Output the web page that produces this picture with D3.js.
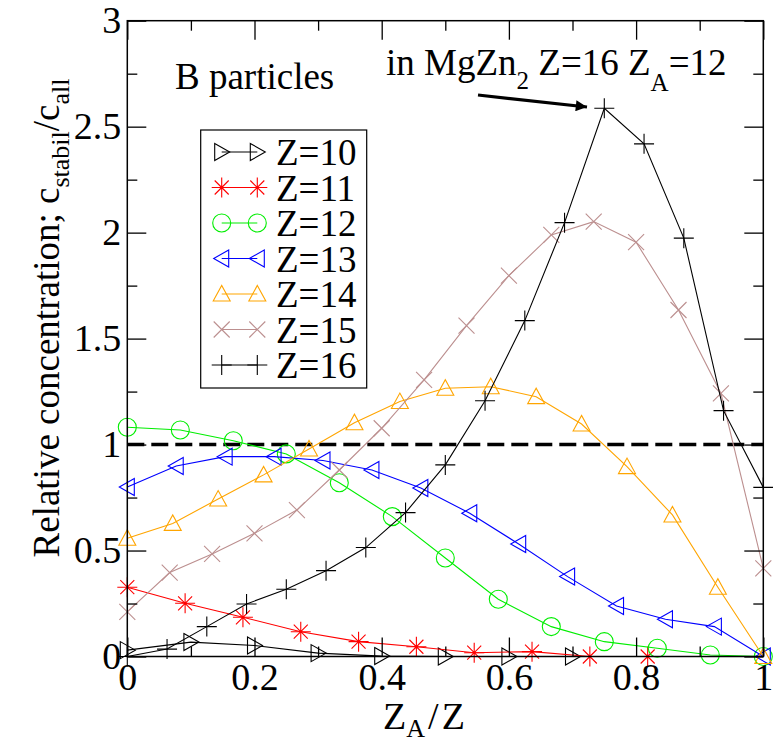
<!DOCTYPE html>
<html lang="en">
<head>
<meta charset="UTF-8">
<title>B particles</title>
<script src="https://d3js.org/d3.v7.min.js"></script>
<style>
    body { margin: 0; padding: 0; background: white; }
    svg text { font-family: "Liberation Serif", "DejaVu Serif", "Times New Roman", serif; }
</style>
</head>
<body>
<div id="chart"></div>
<script>
// x tick labels / y tick labels
const xTicks = [0, 0.2, 0.4, 0.6, 0.8, 1];
const xMinor = [0.1, 0.3, 0.5, 0.7, 0.9];
const yTicks = [0, 0.5, 1, 1.5, 2, 2.5, 3];
const yMinor = [0.25, 0.75, 1.25, 1.75, 2.25, 2.75];

// values at Z_A = 0,1,2,... for each Z
const z10 = [0.03, 0.068, 0.052, 0.016, 0.002, 0.0, 0.0, 0.0];
const z11 = [0.327, 0.251, 0.185, 0.117, 0.070, 0.046, 0.018, 0.023, 0.0, 0.0];
const z12 = [1.082, 1.069, 1.018, 0.956, 0.820, 0.660, 0.465, 0.270, 0.141, 0.070, 0.039, 0.007, 0.0];
const z13 = [0.80, 0.899, 0.943, 0.943, 0.925, 0.880, 0.795, 0.676, 0.531, 0.377, 0.238, 0.176, 0.141, 0.0];
const z14 = [0.558, 0.628, 0.743, 0.857, 0.979, 1.103, 1.203, 1.266, 1.273, 1.226, 1.097, 0.896, 0.668, 0.327, 0.0];
const z15 = [0.211, 0.396, 0.484, 0.581, 0.691, 0.880, 1.077, 1.305, 1.561, 1.797, 1.989, 2.052, 1.955, 1.635, 1.242, 0.416];
const z16 = [0.0, 0.035, 0.141, 0.248, 0.317, 0.405, 0.514, 0.679, 0.904, 1.207, 1.585, 2.047, 2.587, 2.419, 1.974, 1.160, 0.798];

const series = [
    {z: 10, vals: z10, color: "#000000", sym: "triR"},
    {z: 11, vals: z11, color: "#ff0000", sym: "star"},
    {z: 12, vals: z12, color: "#00ee00", sym: "circle"},
    {z: 13, vals: z13, color: "#0000ff", sym: "triL"},
    {z: 14, vals: z14, color: "#ffa500", sym: "triU"},
    {z: 15, vals: z15, color: "#bc8f8f", sym: "cross"},
    {z: 16, vals: z16, color: "#000000", sym: "plus"}
];

const width = 773, height = 743;
const pLeft = 127.3, pRight = 763.3, pTop = 20.7, pBottom = 656.5;

const svg = d3.select("#chart").append("svg")
    .attr("width", width).attr("height", height);

const x = d3.scaleLinear().domain([0, 1]).range([pLeft, pRight]);
const y = d3.scaleLinear().domain([0, 3]).range([pBottom, pTop]);

// symbol path centered at 0,0
function symbolPath(sym) {
    switch (sym) {
        case "triR": return "M-7,-8.5L8,0L-7,8.5Z";
        case "triL": return "M7,-8.5L-8,0L7,8.5Z";
        case "triU": return "M-8.5,7L0,-8.5L8.5,7Z";
        case "circle": return "M9,0A9,9 0 1,1 -9,0A9,9 0 1,1 9,0Z";
        case "star": return "M0,-10V10M-10,0H10M-7,-7L7,7M-7,7L7,-7";
        case "cross": return "M-8,-8L8,8M-8,8L8,-8";
        case "plus": return "M0,-10V10M-10,0H10";
    }
}

// dashed reference line at 1
svg.append("line")
    .attr("x1", x(0)).attr("x2", x(1))
    .attr("y1", y(1)).attr("y2", y(1))
    .attr("stroke", "black").attr("stroke-width", 3.5)
    .attr("stroke-dasharray", "17,7");

// series
const line = d3.line().x(d => x(d[0])).y(d => y(d[1]));
series.forEach(s => {
    const pts = s.vals.map((v, k) => [k / s.z, v]);
    svg.append("path")
        .attr("d", line(pts))
        .attr("fill", "none").attr("stroke", s.color).attr("stroke-width", 1.1);
    svg.append("g").selectAll("path")
        .data(pts)
        .enter().append("path")
        .attr("transform", d => `translate(${x(d[0])},${y(d[1])})`)
        .attr("d", symbolPath(s.sym))
        .attr("fill", "none").attr("stroke", s.color).attr("stroke-width", 1.1);
});

// axes: ticks inside on all four sides
const fmt = d3.format("~g");
function addAxis(axisFn, pos, vals, size, labels) {
    const a = axisFn.tickValues(vals).tickSizeInner(-size).tickSizeOuter(0);
    if (labels) a.tickFormat(fmt).tickPadding(labels); else a.tickFormat("");
    const g = svg.append("g").attr("transform", pos).call(a);
    g.attr("font-family", null).attr("font-size", null);
    g.select(".domain").remove();
    g.selectAll("line").attr("stroke", "black").attr("stroke-width", 1.3);
    return g;
}
const gx = addAxis(d3.axisBottom(x), `translate(0,${pBottom})`, xTicks, 19, 7);
addAxis(d3.axisBottom(x), `translate(0,${pBottom})`, xMinor, 10, 0);
addAxis(d3.axisTop(x), `translate(0,${pTop})`, xTicks, 19, 0);
addAxis(d3.axisTop(x), `translate(0,${pTop})`, xMinor, 10, 0);
const gy = addAxis(d3.axisLeft(y), `translate(${pLeft},0)`, yTicks, 19, 6);
addAxis(d3.axisLeft(y), `translate(${pLeft},0)`, yMinor, 10, 0);
addAxis(d3.axisRight(y), `translate(${pRight},0)`, yTicks, 19, 0);
addAxis(d3.axisRight(y), `translate(${pRight},0)`, yMinor, 10, 0);
gx.selectAll("text").attr("font-size", 38).attr("fill", "black");
gy.selectAll("text").attr("font-size", 38).attr("fill", "black");

// frame
svg.append("rect")
    .attr("x", pLeft).attr("y", pTop)
    .attr("width", pRight - pLeft).attr("height", pBottom - pTop)
    .attr("fill", "none").attr("stroke", "black").attr("stroke-width", 1.5);

// axis titles
const xt = svg.append("text").attr("x", 424).attr("y", 729)
    .attr("text-anchor", "middle").attr("font-size", 38);
xt.append("tspan").text("Z");
xt.append("tspan").attr("font-size", 26).attr("dy", 8).text("A");
xt.append("tspan").attr("dy", -8).attr("dx", 3).text("/");
xt.append("tspan").attr("dx", 3).text("Z");

const yt = svg.append("text")
    .attr("transform", "translate(59,318) rotate(-90)")
    .attr("text-anchor", "middle").attr("font-size", 37);
yt.append("tspan").text("Relative concentration; c");
yt.append("tspan").attr("font-size", 26).attr("dy", 10).text("stabil");
yt.append("tspan").attr("dy", -10).text("/c");
yt.append("tspan").attr("font-size", 26).attr("dy", 10).text("all");

// annotations
svg.append("text").attr("x", 175).attr("y", 89).attr("font-size", 37).text("B particles");
const an = svg.append("text").attr("x", 386).attr("y", 75).attr("font-size", 37);
an.append("tspan").text("in MgZn");
an.append("tspan").attr("font-size", 25).attr("dy", 14).text("2");
an.append("tspan").attr("dy", -14).text(" Z=16 Z");
an.append("tspan").attr("font-size", 25).attr("dy", 16).text("A");
an.append("tspan").attr("dy", -16).text("=12");

svg.append("defs").append("marker")
    .attr("id", "head").attr("viewBox", "0 0 10 10")
    .attr("refX", 10).attr("refY", 5)
    .attr("markerWidth", 4.5).attr("markerHeight", 3.5)
    .attr("markerUnits", "strokeWidth").attr("orient", "auto")
    .append("path").attr("d", "M0,0L10,5L0,10Z").attr("fill", "black");
svg.append("line")
    .attr("x1", 478).attr("y1", 95).attr("x2", 587).attr("y2", 107)
    .attr("stroke", "black").attr("stroke-width", 3.2)
    .attr("marker-end", "url(#head)");

// legend
const lg = svg.append("g");
lg.append("rect").attr("x", 200.7).attr("y", 130).attr("width", 166).attr("height", 258)
    .attr("fill", "white").attr("stroke", "black").attr("stroke-width", 1.2);
series.forEach((s, i) => {
    const cy = 152 + i * 35.5;
    lg.append("line").attr("x1", 221.7).attr("x2", 257.3).attr("y1", cy).attr("y2", cy)
        .attr("stroke", s.color).attr("stroke-width", 1.1);
    [221.7, 257.3].forEach(cx => {
        lg.append("path").attr("transform", `translate(${cx},${cy})`)
            .attr("d", symbolPath(s.sym))
            .attr("fill", "none").attr("stroke", s.color).attr("stroke-width", 1.1);
    });
    lg.append("text").attr("x", 276).attr("y", cy + 13).attr("font-size", 37).text("Z=" + s.z);
});
</script>
</body>
</html>
